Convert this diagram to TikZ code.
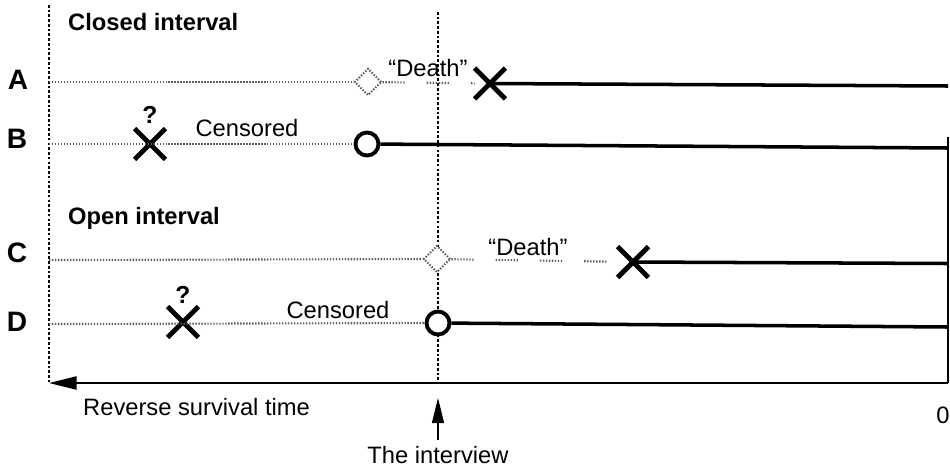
\documentclass[tikz,border=0pt]{standalone}
\usepackage{fontspec}
\setmainfont{Liberation Sans}
\usepackage{tikz}
\usetikzlibrary{arrows.meta}
\usetikzlibrary{shapes.geometric}
\usetikzlibrary{shapes.misc}
\definecolor{TraceGrey}{HTML}{5E5E5E}

\begin{document}
\begin{tikzpicture}[
    font=\fontsize{13.5}{16}\selectfont,
    rowlabel/.style={font=\fontsize{16}{18}\selectfont\bfseries},
    heading/.style={font=\fontsize{13.5}{16}\selectfont\bfseries, anchor=west},
    query/.style={font=\fontsize{14}{16}\selectfont\bfseries},
    dotline/.style={TraceGrey, line width=1.2pt, dash pattern=on 0.8pt off 0.9pt},
    gapdots/.style={TraceGrey, line width=1.2pt,
      dash pattern=on 0.8pt off 0.9pt on 0.8pt off 0.9pt on 0.8pt off 0.9pt on 0.8pt off 0.9pt
                   on 0.8pt off 0.9pt on 0.8pt off 0.9pt on 0.8pt off 0.9pt on 0.8pt off 12.5pt},
    solidline/.style={line width=2pt},
    guide/.style={line width=0.7pt, dash pattern=on 1.5pt off 1.2pt},
    cross/.style={draw, cross out, line width=2.8pt, minimum size=0.52cm, inner sep=0pt},
    ring/.style={draw, circle, line width=2.2pt, minimum size=0.46cm, inner sep=0pt, fill=white},
    ghost/.style={draw, diamond, TraceGrey, line width=1.2pt, dash pattern=on 0.8pt off 0.9pt,
      minimum size=0.54cm, inner sep=0pt, fill=white}
  ]
  \useasboundingbox (0,0) rectangle (19,-9.34);

  % time axis and guides
  \coordinate (lTop) at (0.98,-0.10);
  \coordinate (axL) at (0.98,-7.66);
  \coordinate (iTop) at (8.76,-0.24);
  \coordinate (axI) at (8.76,-7.66);
  \coordinate (axR) at (18.96,-7.66);
  \coordinate (rTop) at (18.96,-2.74);
  \draw[guide] (lTop) -- (axL);
  \draw[guide] (iTop) -- (axI);

  \node[heading] (closed) at (1.24,-0.44) {Closed interval};
  \node[heading] (open) at (1.24,-4.36) {Open interval};
  \node[rowlabel] (rA) at (0.36,-1.60) {A};
  \node[rowlabel] (rB) at (0.34,-2.78) {B};
  \node[rowlabel] (rC) at (0.34,-5.06) {C};
  \node[rowlabel] (rD) at (0.34,-6.44) {D};

  % row A
  \coordinate (sA) at (0.98,-1.64);
  \coordinate (eA) at (18.96,-1.72);
  \node[ghost] (dA) at (7.36,-1.64) {};
  \node[cross] (xA) at (9.80,-1.67) {};
  \node (lA) at (8.56,-1.36) {“Death”};
  \draw[dotline] (sA) -- (dA);
  \draw[gapdots] (dA) -- (xA);
  \draw[solidline] (xA.center) -- (eA);

  % row B
  \coordinate (sB) at (0.98,-2.88);
  \coordinate (eB) at (18.96,-2.96);
  \node[cross] (xB) at (3.00,-2.88) {};
  \node[query] (qB) at (3.00,-2.30) {?};
  \node (lB) at (4.94,-2.56) {Censored};
  \node[ring] (cB) at (7.34,-2.88) {};
  \draw[dotline] (sB) -- (cB);
  \draw[solidline] (cB) -- (eB);

  % row C
  \coordinate (sC) at (0.98,-5.20);
  \coordinate (eC) at (18.96,-5.27);
  \node[ghost] (dC) at (8.74,-5.18) {};
  \node[cross] (xC) at (12.66,-5.24) {};
  \node (lC) at (10.56,-4.94) {“Death”};
  \draw[dotline] (sC) -- (dC);
  \draw[gapdots] (dC) -- (xC);
  \draw[solidline] (xC.center) -- (eC);

  % row D
  \coordinate (sD) at (0.98,-6.48);
  \coordinate (eD) at (18.96,-6.54);
  \node[cross] (xD) at (3.66,-6.44) {};
  \node[query] (qD) at (3.66,-5.90) {?};
  \node (lD) at (6.76,-6.20) {Censored};
  \node[ring] (cD) at (8.76,-6.46) {};
  \draw[dotline] (sD) -- (cD);
  \draw[solidline] (cD) -- (eD);

  \draw[line width=1.3pt] (rTop) -- (axR);
  \draw[line width=1.1pt, -{Triangle[length=0.55cm,width=0.26cm]}] (axR) -- (axL);
  \node[anchor=west] (rev) at (1.54,-8.14) {Reverse survival time};
  \node[anchor=east, inner sep=0pt] (zero) at (19,-8.30) {0};

  \coordinate (iTip) at (8.76,-7.96);
  \node (intv) at (8.76,-9.10) {The interview};
  \draw[line width=0.6pt, -{Triangle[length=0.5cm,width=0.24cm]}] (intv) -- (iTip);
\end{tikzpicture}
\end{document}
